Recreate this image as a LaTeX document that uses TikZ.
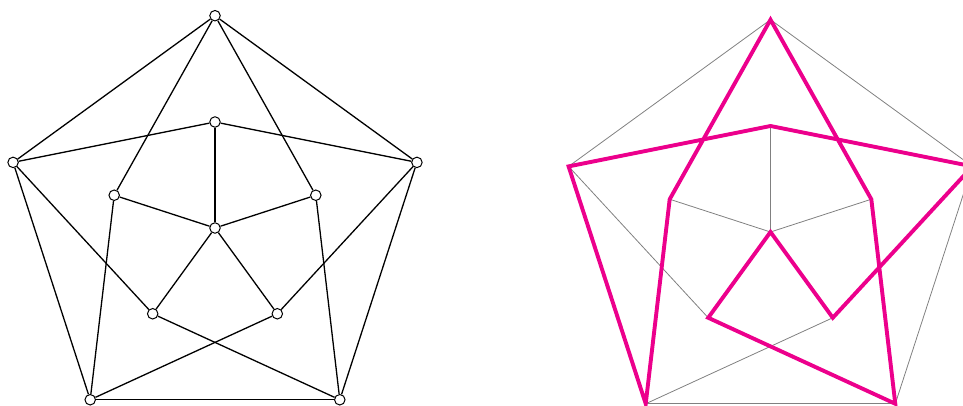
\documentclass[tikz,border=0pt]{standalone}
\definecolor{hamcol}{RGB}{236,0,140}
\tikzset{
  vtx/.style={circle,draw,fill=white,inner sep=0pt,minimum size=10.5pt,line width=1pt},
  edge/.style={black,line width=1.3pt},
  grayedge/.style={gray,line width=0.8pt},
  hampath/.style={hamcol,line width=3.9pt,line join=miter}
}
\begin{document}
\begin{tikzpicture}[x=1pt,y=1pt]
\clip (0,-406) rectangle (963,0);
% ---------- left graph ----------
\begin{scope}[shift={(215,-228)}]
  \node[vtx] (Lc) at (0,0) {};
  \foreach \k/\a in {1/90,2/162,3/234,4/306,5/18}{
    \node[vtx] (Lo\k) at (\a:212.3) {};
    \node[vtx] (Li\k) at (\a:106) {};
  }
\end{scope}
\foreach \k/\n in {1/2,2/3,3/4,4/5,5/1}
  \draw[edge] (Lo\k) -- (Lo\n);
\foreach \i/\a/\b in {1/2/5,2/1/3,3/2/4,4/3/5,5/4/1}{
  \draw[edge] (Li\i) -- (Lo\a);
  \draw[edge] (Li\i) -- (Lo\b);
  \draw[edge] (Lc) -- (Li\i);
}
% ---------- right graph ----------
\begin{scope}[shift={(770.5,-232)}]
  \coordinate (Rc) at (0,0);
  \foreach \k/\a in {1/90,2/162,3/234,4/306,5/18}{
    \coordinate (Ro\k) at (\a:212.3);
    \coordinate (Ri\k) at (\a:106);
  }
\end{scope}
\foreach \k/\n in {1/2,2/3,3/4,4/5,5/1}
  \draw[grayedge] (Ro\k) -- (Ro\n);
\foreach \i/\a/\b in {1/2/5,2/1/3,3/2/4,4/3/5,5/4/1}{
  \draw[grayedge] (Ri\i) -- (Ro\a);
  \draw[grayedge] (Ri\i) -- (Ro\b);
  \draw[grayedge] (Rc) -- (Ri\i);
}
\draw[hampath] (Ro2) -- (Ro3) -- (Ri2) -- (Ro1) -- (Ri5) -- (Ro4) -- (Ri3)
  -- (Rc) -- (Ri4) -- (Ro5) -- (Ri1) -- cycle;
\end{tikzpicture}
\end{document}
